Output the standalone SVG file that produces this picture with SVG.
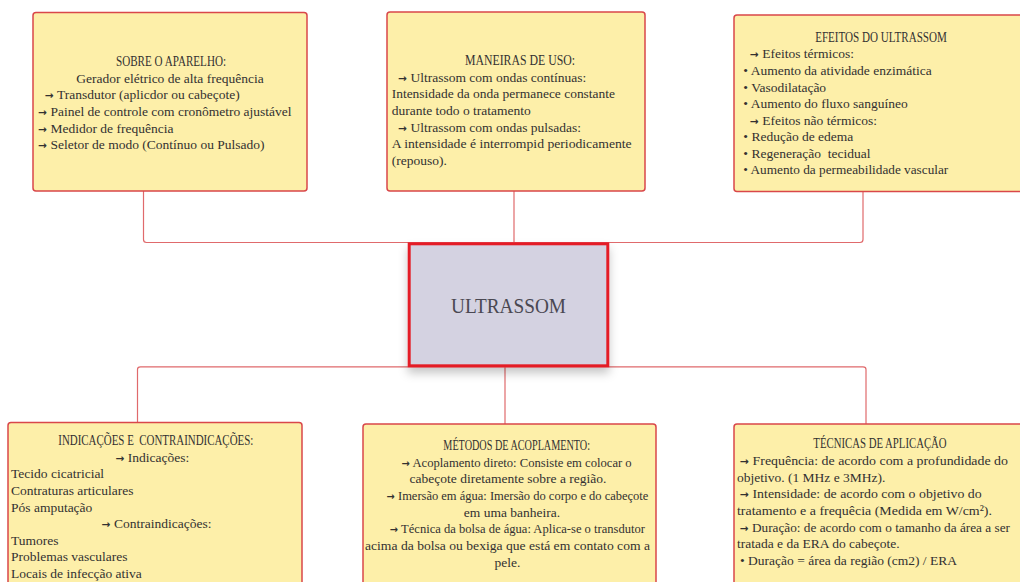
<svg xmlns="http://www.w3.org/2000/svg" width="1020" height="582" viewBox="0 0 1020 582">
  <style>
    .card { fill: #fdefa9; stroke: #d9474a; stroke-width: 1.5; }
    .hub { fill: #d4d2e1; stroke: #e41f28; stroke-width: 3; }
    .link { fill: none; stroke: #e06a6c; stroke-width: 1.2; }
    text { font-family: "Liberation Serif", "DejaVu Serif", serif; font-size: 13.5px; fill: #333131; white-space: pre; }
    .hd { font-size: 14.5px; text-anchor: middle; }
    .ar { font-family: "DejaVu Sans", sans-serif; font-size: 10.5px; font-weight: bold; }
    .mid { text-anchor: middle; }
    .title { font-size: 22px; fill: #4a4852; }
  </style>
  <defs>
    <filter id="shadow" x="-20%" y="-20%" width="140%" height="150%">
      <feDropShadow dx="0" dy="6" stdDeviation="5" flood-color="#000" flood-opacity="0.22"/>
    </filter>
  </defs>

  <rect width="1020" height="582" fill="#ffffff"/>

  <!-- connectors -->
  <g id="connectors">
    <path class="link" d="M143.5 191 V239.5 Q143.5 242.5 146.5 242.5 H860 Q863 242.5 863 239.5 V191"/>
    <path class="link" d="M514 191 V242.5"/>
    <path class="link" d="M137.5 423 V369.5 Q137.5 366.8 140.5 366.8 H863 Q866 366.8 866 369.5 V424"/>
    <path class="link" d="M505 366.8 V424"/>
  </g>

  <!-- central topic -->
  <g id="node-ultrassom">
    <rect class="hub" x="409.2" y="243.8" width="198.6" height="122" filter="url(#shadow)"/>
    <text class="title mid" x="508.5" y="313" textLength="115" lengthAdjust="spacingAndGlyphs">ULTRASSOM</text>
  </g>

  <!-- about the device -->
  <g id="node-aparelho">
    <rect class="card" x="33" y="12.5" width="274" height="178.5" rx="3"/>
    <text class="hd" x="171" y="66" textLength="110" lengthAdjust="spacingAndGlyphs">SOBRE O APARELHO:</text>
    <text class="mid" x="170" y="82.5">Gerador elétrico de alta frequência</text>
    <text x="45" y="99"><tspan class="ar">→</tspan> Transdutor (aplicdor ou cabeçote)</text>
    <text x="38.3" y="116" textLength="253.3" lengthAdjust="spacingAndGlyphs"><tspan class="ar">→</tspan> Painel de controle com cronômetro ajustável</text>
    <text x="38.3" y="132.5"><tspan class="ar">→</tspan> Medidor de frequência</text>
    <text x="38.3" y="149"><tspan class="ar">→</tspan> Seletor de modo (Contínuo ou Pulsado)</text>
  </g>

  <!-- ways of use -->
  <g id="node-maneiras">
    <rect class="card" x="387" y="12" width="258" height="179" rx="3"/>
    <text class="hd" x="520" y="65" textLength="110" lengthAdjust="spacingAndGlyphs">MANEIRAS DE USO:</text>
    <text x="398.3" y="81.7"><tspan class="ar">→</tspan> Ultrassom com ondas contínuas:</text>
    <text x="391.7" y="98.3" textLength="223.3" lengthAdjust="spacingAndGlyphs">Intensidade da onda permanece constante</text>
    <text x="391.7" y="115">durante todo o tratamento</text>
    <text x="398.3" y="131.7"><tspan class="ar">→</tspan> Ultrassom com ondas pulsadas:</text>
    <text x="391.7" y="148.3" textLength="240" lengthAdjust="spacingAndGlyphs">A intensidade é interrompid periodicamente</text>
    <text x="391.7" y="165">(repouso).</text>
  </g>

  <!-- effects -->
  <g id="node-efeitos">
    <rect class="card" x="734" y="15" width="296" height="176.5" rx="3"/>
    <text class="hd" x="881" y="41.7" textLength="131.7" lengthAdjust="spacingAndGlyphs">EFEITOS DO ULTRASSOM</text>
    <text x="750" y="58.3"><tspan class="ar">→</tspan> Efeitos térmicos:</text>
    <text x="743.3" y="75">• Aumento da atividade enzimática</text>
    <text x="743.3" y="91.5">• Vasodilatação</text>
    <text x="743.3" y="108">• Aumento do fluxo sanguíneo</text>
    <text x="750" y="124.5"><tspan class="ar">→</tspan> Efeitos não térmicos:</text>
    <text x="743.3" y="141">• Redução de edema</text>
    <text x="743.3" y="157.5">• Regeneração  tecidual</text>
    <text x="743.3" y="174" textLength="205" lengthAdjust="spacingAndGlyphs">• Aumento da permeabilidade vascular</text>
  </g>

  <!-- indications and contraindications -->
  <g id="node-indicacoes">
    <rect class="card" x="8" y="422.5" width="294" height="175" rx="3"/>
    <text class="hd" x="155.8" y="445" textLength="195" lengthAdjust="spacingAndGlyphs">INDICAÇÕES E  CONTRAINDICAÇÕES:</text>
    <text class="mid" x="152.5" y="461.7"><tspan class="ar">→</tspan> Indicações:</text>
    <text x="11" y="478.3">Tecido cicatricial</text>
    <text x="11" y="495">Contraturas articulares</text>
    <text x="11" y="511.7">Pós amputação</text>
    <text class="mid" x="156.7" y="528"><tspan class="ar">→</tspan> Contraindicações:</text>
    <text x="11" y="544.5">Tumores</text>
    <text x="11" y="561">Problemas vasculares</text>
    <text x="11" y="577.5">Locais de infecção ativa</text>
  </g>

  <!-- coupling methods -->
  <g id="node-acoplamento">
    <rect class="card" x="363" y="424" width="293" height="175" rx="3"/>
    <text class="hd" x="516.7" y="450" textLength="146.7" lengthAdjust="spacingAndGlyphs">MÉTODOS DE ACOPLAMENTO:</text>
    <text x="401.7" y="466.7" textLength="230" lengthAdjust="spacingAndGlyphs"><tspan class="ar">→</tspan> Acoplamento direto: Consiste em colocar o</text>
    <text class="mid" x="508" y="483.3">cabeçote diretamente sobre a região.</text>
    <text x="386.7" y="500" textLength="261.7" lengthAdjust="spacingAndGlyphs"><tspan class="ar">→</tspan> Imersão em água: Imersão do corpo e do cabeçote</text>
    <text class="mid" x="512" y="516.7">em uma banheira.</text>
    <text x="390" y="533.3" textLength="255" lengthAdjust="spacingAndGlyphs"><tspan class="ar">→</tspan> Técnica da bolsa de água: Aplica-se o transdutor</text>
    <text x="365" y="550" textLength="285" lengthAdjust="spacingAndGlyphs">acima da bolsa ou bexiga que está em contato com a</text>
    <text class="mid" x="507.5" y="566.7">pele.</text>
  </g>

  <!-- application techniques -->
  <g id="node-tecnicas">
    <rect class="card" x="734" y="424" width="296" height="175" rx="3"/>
    <text class="hd" x="880" y="448.3" textLength="133.3" lengthAdjust="spacingAndGlyphs">TÉCNICAS DE APLICAÇÃO</text>
    <text x="740" y="465" textLength="268" lengthAdjust="spacingAndGlyphs"><tspan class="ar">→</tspan> Frequência: de acordo com a profundidade do</text>
    <text x="737" y="481.7">objetivo. (1 MHz e 3MHz).</text>
    <text x="740" y="498.3" textLength="241.7" lengthAdjust="spacingAndGlyphs"><tspan class="ar">→</tspan> Intensidade: de acordo com o objetivo do</text>
    <text x="737" y="515" textLength="255" lengthAdjust="spacingAndGlyphs">tratamento e a frequêcia (Medida em W/cm²).</text>
    <text x="740" y="531.7" textLength="270" lengthAdjust="spacingAndGlyphs"><tspan class="ar">→</tspan> Duração: de acordo com o tamanho da área a ser</text>
    <text x="737" y="548.3">tratada e da ERA do cabeçote.</text>
    <text x="740" y="565">• Duração = área da região (cm2) / ERA</text>
  </g>
</svg>
